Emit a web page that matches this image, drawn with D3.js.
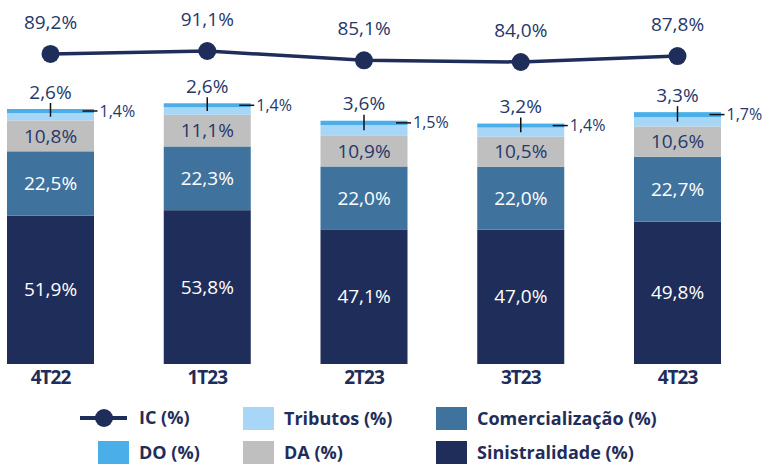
<!DOCTYPE html>
<html>
<head>
<meta charset="utf-8">
<title>IC</title>
<script src="https://d3js.org/d3.v7.min.js"></script>
<style>
 body { margin: 0; background: #fff; }
 svg { font-family: "Open Sans", sans-serif; }
</style>
</head>
<body>
<script>
 var width = 762, height = 464;

 var categories = ['4T22', '1T23', '2T23', '3T23', '4T23'];
 var sinistralidade = [51.9, 53.8, 47.1, 47.0, 49.8];
 var comercializacao = [22.5, 22.3, 22.0, 22.0, 22.7];
 var da = [10.8, 11.1, 10.9, 10.5, 10.6];
 var tributos = [2.6, 2.6, 3.6, 3.2, 3.3];
 var doPct = [1.4, 1.4, 1.5, 1.4, 1.7];
 var ic = [89.2, 91.1, 85.1, 84.0, 87.8];

 var navy = '#1f2d5a';
 var textNavy = '#26386a';
 var series = [
   {name: 'Sinistralidade (%)', values: sinistralidade, color: navy, text: '#fff'},
   {name: 'Comercialização (%)', values: comercializacao, color: '#3f739e', text: '#fff'},
   {name: 'DA (%)', values: da, color: '#bfbfbf', text: textNavy},
   {name: 'Tributos (%)', values: tributos, color: '#a7d6f6', text: textNavy},
   {name: 'DO (%)', values: doPct, color: '#4aaee8', text: textNavy}
 ];

 var fmt = function (v) { return v.toFixed(1).replace('.', ',') + '%'; };

 var x = d3.scalePoint().domain(categories).range([50.5, 677.5]);
 var barW = 87;
 var y = d3.scaleLinear().domain([0, 89.2]).range([364, 109]);
 var y2 = d3.scaleLinear().domain([84, 91.1]).range([62, 51]);

 var svg = d3.select('body').append('svg')
   .attr('width', width).attr('height', height);

 // stacked bars
 categories.forEach(function (c, i) {
   var base = 0;
   var g = svg.append('g');
   series.forEach(function (s, k) {
     var v = s.values[i];
     var y0 = y(base), y1 = y(base + v);
     g.append('rect')
       .attr('x', x(c) - barW / 2)
       .attr('y', y1)
       .attr('width', barW)
       .attr('height', y0 - y1)
       .attr('fill', s.color);
     if (k < 3) {
       g.append('text')
         .attr('x', x(c))
         .attr('y', (y0 + y1) / 2)
         .attr('dy', '0.35em')
         .attr('text-anchor', 'middle')
         .attr('font-size', 19)
         .attr('fill', s.text)
         .text(fmt(v));
     }
     s.mid = (y0 + y1) / 2;
     base += v;
   });
   var top = y(base);
   // tributos label with vertical leader
   g.append('line')
     .attr('x1', x(c)).attr('x2', x(c))
     .attr('y1', top - 6).attr('y2', series[3].mid)
     .attr('stroke', '#111').attr('stroke-width', 1.5);
   g.append('text')
     .attr('x', x(c)).attr('y', top - 17)
     .attr('dy', '0.35em')
     .attr('text-anchor', 'middle')
     .attr('font-size', 19)
     .attr('fill', textNavy)
     .text(fmt(tributos[i]));
   // DO label with horizontal leader
   g.append('line')
     .attr('x1', x(c) + 32).attr('x2', x(c) + 47)
     .attr('y1', series[4].mid).attr('y2', series[4].mid)
     .attr('stroke', '#111').attr('stroke-width', 1.5);
   g.append('text')
     .attr('x', x(c) + 49).attr('y', series[4].mid)
     .attr('dy', '0.35em')
     .attr('font-size', 16)
     .attr('fill', textNavy)
     .text(fmt(doPct[i]));
 });

 // category labels
 svg.append('g').selectAll('text')
   .data(categories).enter().append('text')
   .attr('x', function (d) { return x(d); })
   .attr('y', 377)
   .attr('dy', '0.35em')
   .attr('text-anchor', 'middle')
   .attr('font-size', 19)
   .attr('letter-spacing', -1)
   .attr('font-weight', 'bold')
   .attr('fill', navy)
   .text(function (d) { return d; });

 // IC line
 var line = d3.line()
   .x(function (d, i) { return x(categories[i]); })
   .y(function (d) { return y2(d); });

 svg.append('path')
   .datum(ic)
   .attr('d', line)
   .attr('fill', 'none')
   .attr('stroke', navy)
   .attr('stroke-width', 3.5);

 svg.append('g').selectAll('circle')
   .data(ic).enter().append('circle')
   .attr('cx', function (d, i) { return x(categories[i]); })
   .attr('cy', function (d) { return y2(d); })
   .attr('r', 9)
   .attr('fill', navy);

 svg.append('g').selectAll('text')
   .data(ic).enter().append('text')
   .attr('x', function (d, i) { return x(categories[i]); })
   .attr('y', function (d) { return y2(d) - 32; })
   .attr('dy', '0.35em')
   .attr('text-anchor', 'middle')
   .attr('font-size', 19)
   .attr('fill', textNavy)
   .text(fmt);

 // legend
 var leg = svg.append('g').attr('font-size', 18).attr('font-weight', 'bold').attr('fill', navy);
 leg.append('line')
   .attr('x1', 80).attr('x2', 127).attr('y1', 418).attr('y2', 418)
   .attr('stroke', navy).attr('stroke-width', 4);
 leg.append('circle').attr('cx', 104).attr('cy', 418).attr('r', 9).attr('fill', navy);
 leg.append('text').attr('x', 139).attr('y', 418).attr('dy', '0.35em').text('IC (%)');

 var items = [
   {s: series[3], x: 243, y: 407},
   {s: series[1], x: 436, y: 407},
   {s: series[4], x: 98, y: 441},
   {s: series[2], x: 243, y: 441},
   {s: series[0], x: 436, y: 441}
 ];
 items.forEach(function (it) {
   leg.append('rect')
     .attr('x', it.x).attr('y', it.y)
     .attr('width', 31).attr('height', 23)
     .attr('fill', it.s.color);
   leg.append('text')
     .attr('x', it.x + 41).attr('y', it.y + 11.5)
     .attr('dy', '0.35em')
     .text(it.s.name);
 });
</script>
</body>
</html>
